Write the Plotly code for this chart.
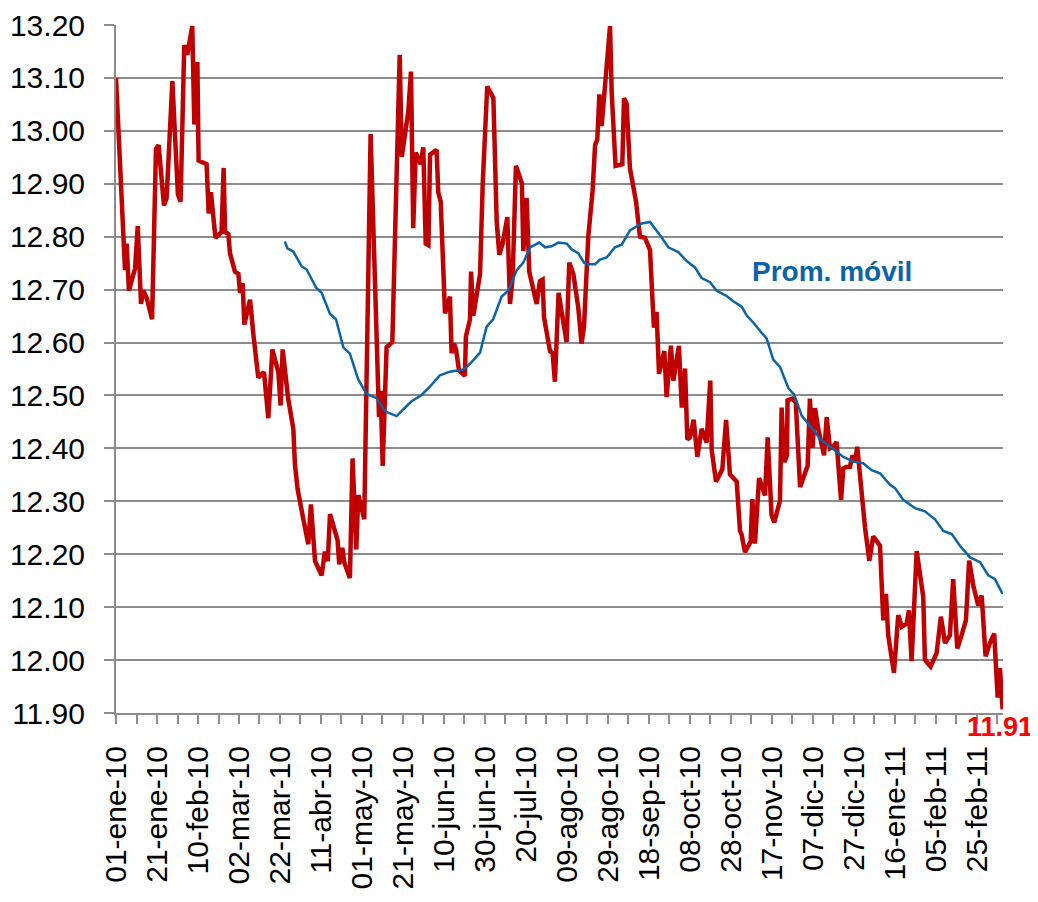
import pandas as pd
import plotly.graph_objects as go

# ---- data (day offset from 01-ene-2010, value) ----
start_date = "2010-01-01"

tipo_cambio_dias = [
    0, 4.4, 5.2, 6.3, 9.3, 10.6, 12.2, 13.3, 15.0, 17.6, 19.5, 20.8, 23.4, 24.7, 27.5,
    30.2, 31.5, 33.3, 34.8, 37.2, 38.2, 39.7, 40.3, 44.2, 45.2, 46.3, 48.5, 51.5, 52.5,
    53.2, 54.8, 55.6, 58.0, 59.7, 60.5, 61.8, 62.6, 65.4, 67.0, 69.4, 72.2, 74.3, 76.3,
    79.2, 80.3, 81.3,
    84.0, 86.5, 87.3, 88.6, 91.4, 93.8, 95.1, 96.3, 97.1, 100.3, 101.9, 103.3, 104.4,
    108.1, 108.9, 110.4, 111.4, 114.1, 115.4, 117.2, 118.2, 121.1, 124.2, 128.3, 129.1,
    130.1, 132.0, 134.8, 138.4, 139.4, 142.6, 143.9, 145.0, 146.2, 148.6, 149.9, 151.1,
    152.4, 153.2, 156.4, 157.2, 158.4, 159.7, 160.5, 162.9, 163.7, 164.9, 165.9, 167.3,
    170.2, 170.7, 172.7, 173.2, 174.3, 177.6, 178.9, 181.1, 184.1, 185.7, 187.0, 188.6,
    190.9, 192.2, 193.5, 195.1, 198.0, 198.7, 200.3, 201.6, 205.2, 206.8, 208.1, 208.8,
    211.7, 213.0, 214.1, 215.9, 219.8, 221.1, 223.1, 225.5, 227.1, 228.3, 230.4, 232.5,
    233.7, 234.8, 235.8, 236.9, 238.0, 241.0, 241.8, 243.7, 247.0, 247.8, 249.1, 250.7,
    253.7, 255.6,
    258.0, 260.5, 262.4, 263.7, 264.9, 266.2, 267.5, 268.6, 270.7, 271.9, 274.6, 276.0,
    277.6, 278.7, 280.0, 281.8, 283.6, 285.7, 288.1, 289.9, 290.6, 292.7, 295.8, 297.6,
    299.5, 302.8, 304.4, 305.2, 306.8, 309.6, 310.4, 311.7, 313.7, 316.6, 317.9, 319.8,
    321.1, 323.9, 324.7, 326.0, 327.3, 327.6, 329.9, 331.6, 333.7, 337.4, 338.5,
    339.8, 341.0, 342.6, 345.4, 346.7, 348.3, 349.9, 351.5, 353.7, 354.8, 356.1, 358.0,
    359.3, 360.5, 361.6, 362.9, 365.4, 367.5, 369.4, 372.7, 374.3, 375.6, 376.7, 379.5,
    381.6, 383.3, 385.7, 386.8, 388.1, 390.6, 393.8, 394.6, 397.4, 400.3, 402.4, 404.4,
    406.8, 408.4, 410.4, 412.5, 414.6, 416.2, 418.2, 420.6, 422.3, 424.2, 426.3, 428.4,
    430.1, 431.2, 432.5,
]
tipo_cambio = [
    13.10, 12.737, 12.787, 12.698, 12.74, 12.82, 12.673, 12.698, 12.684, 12.644, 12.966,
    12.973, 12.859, 12.873, 13.094, 12.88, 12.866, 13.162, 13.144, 13.198, 13.012, 13.13,
    12.944, 12.937, 12.844, 12.884, 12.798, 12.809, 12.93, 12.809, 12.805, 12.769, 12.734,
    12.73, 12.694, 12.712, 12.634, 12.681, 12.616, 12.534, 12.544, 12.457, 12.587, 12.544,
    12.481, 12.587,
    12.494, 12.437, 12.369, 12.323, 12.266, 12.219, 12.294, 12.223, 12.187, 12.16, 12.205,
    12.187, 12.276, 12.226, 12.181, 12.212, 12.184, 12.155, 12.381, 12.209, 12.312, 12.266,
    12.994, 12.459, 12.509, 12.367, 12.591, 12.601, 13.144, 12.951, 13.037, 13.112, 12.816,
    12.959, 12.937, 12.969, 12.787, 12.784, 12.955, 12.964, 12.884, 12.866, 12.691, 12.655,
    12.687, 12.58, 12.598, 12.587, 12.548,
    12.537, 12.612, 12.644, 12.734, 12.651, 12.73, 12.901, 13.084, 13.062, 12.83, 12.766,
    12.787, 12.837, 12.673, 12.723, 12.934, 12.901, 12.773, 12.873, 12.734, 12.673, 12.716,
    12.719, 12.648, 12.584, 12.58, 12.526, 12.694, 12.601, 12.751, 12.73, 12.666, 12.598,
    12.63, 12.801, 12.887, 12.973, 12.984, 13.069, 13.009, 13.066, 13.198, 13.073, 12.934,
    12.937, 13.062, 13.051, 12.93, 12.866, 12.80,
    12.798, 12.775, 12.628, 12.658, 12.541, 12.568, 12.584, 12.497, 12.594, 12.528, 12.594,
    12.477, 12.551, 12.417, 12.421, 12.454, 12.384, 12.437, 12.411, 12.528, 12.397, 12.337,
    12.361, 12.454, 12.351, 12.337, 12.244, 12.237, 12.204, 12.224, 12.304, 12.22, 12.344,
    12.311, 12.421, 12.274, 12.26, 12.301, 12.477, 12.374, 12.387, 12.491, 12.494, 12.487,
    12.327, 12.367, 12.494,
    12.401, 12.476, 12.436, 12.387, 12.459, 12.40, 12.403, 12.412, 12.303, 12.362, 12.365,
    12.365, 12.387, 12.375, 12.403, 12.344, 12.25, 12.188, 12.234, 12.216, 12.075, 12.125,
    12.047, 11.976, 12.085, 12.063, 12.069, 12.094, 11.998, 12.206, 12.119, 12.001, 11.988,
    12.013, 12.082, 12.032, 12.047, 12.153, 12.022, 12.047, 12.075, 12.188, 12.141, 12.103,
    12.122, 12.007, 12.032, 12.05, 11.929, 11.985, 11.907,
]

prom_movil_dias = [
    82.4, 83.6, 86.5, 90.6, 93.0, 97.6, 100.3, 104.4, 107.3, 110.9, 114.1, 118.2, 122.3,
    127.2, 131.2, 136.9, 139.4, 144.2, 149.1, 153.2, 158.0, 162.9, 169.4, 172.7, 177.6,
    180.8, 184.0, 188.1, 191.4, 195.5, 198.7, 202.0, 206.5, 209.3, 212.5, 215.8, 219.9,
    222.3, 225.5, 228.3, 230.4, 233.7, 236.1, 239.4, 243.4, 246.7, 250.7, 254.8, 256.4,
    260.5, 265.4, 269.4, 274.3, 278.4, 282.4, 285.7, 289.8, 293.0, 297.9, 301.1, 305.2,
    307.7, 310.9, 315.0, 317.4, 320.6, 323.9, 328.0, 330.9, 334.5, 337.7, 341.0, 343.4,
    348.3, 354.8, 359.7, 364.5, 368.6, 372.7, 377.6, 380.0, 384.0, 389.8, 394.6, 399.5,
    403.6, 407.7, 411.7, 416.6, 421.5, 425.5, 428.8, 432.5,
]
prom_movil = [
    12.791, 12.778, 12.772, 12.744, 12.738, 12.704, 12.694, 12.654, 12.644, 12.591, 12.579,
    12.53, 12.503, 12.495, 12.47, 12.461, 12.471, 12.489, 12.501, 12.517, 12.538, 12.545,
    12.549, 12.56, 12.581, 12.63, 12.644, 12.687, 12.698, 12.737, 12.751, 12.78, 12.789,
    12.78, 12.782, 12.789, 12.787, 12.776, 12.769, 12.751, 12.748, 12.748, 12.757, 12.761,
    12.78, 12.785, 12.812, 12.821, 12.825, 12.828, 12.803, 12.78, 12.771, 12.754, 12.742,
    12.722, 12.714, 12.698, 12.688, 12.678, 12.668, 12.651, 12.638, 12.618, 12.608, 12.568,
    12.554, 12.514, 12.501, 12.462, 12.447, 12.431, 12.418, 12.403, 12.384, 12.375, 12.372,
    12.359, 12.353, 12.331, 12.325, 12.303, 12.287, 12.281, 12.266, 12.244, 12.238, 12.216,
    12.194, 12.185, 12.16, 12.153, 12.125,
]

tick_labels = [
    "01-ene-10", "21-ene-10", "10-feb-10", "02-mar-10", "22-mar-10", "11-abr-10",
    "01-may-10", "21-may-10", "10-jun-10", "30-jun-10", "20-jul-10", "09-ago-10",
    "29-ago-10", "18-sep-10", "08-oct-10", "28-oct-10", "17-nov-10", "07-dic-10",
    "27-dic-10", "16-ene-11", "05-feb-11", "25-feb-11",
]
tick_step_days = 20
minor_step_days = 10
y_ticks = [11.90, 12.00, 12.10, 12.20, 12.30, 12.40, 12.50, 12.60, 12.70, 12.80, 12.90,
           13.00, 13.10, 13.20]
x_end_day = 432.7

# ---- helpers ----
base = pd.Timestamp(start_date)


def to_date(d):
    return (base + pd.Timedelta(days=d)).strftime("%Y-%m-%d %H:%M:%S")


x_red = [to_date(d) for d in tipo_cambio_dias]
x_blue = [to_date(d) for d in prom_movil_dias]
tick_vals = [to_date(i * tick_step_days) for i in range(len(tick_labels))]

RED = "#C00000"
BLUE = "#0B63A8"
GRID = "#8C8C8C"
FONT = "Liberation Sans, Arial, sans-serif"

fig = go.Figure()
fig.add_trace(go.Scatter(x=x_red, y=tipo_cambio, mode="lines",
                         line=dict(color=RED, width=4.5), showlegend=False))
fig.add_trace(go.Scatter(x=x_blue, y=prom_movil, mode="lines",
                         line=dict(color=BLUE, width=2.5), showlegend=False))

# page body has an 8px margin, so the figure is 8px smaller and margins shifted
fig.update_layout(
    width=1030, height=894,
    margin=dict(l=108, r=35, t=17, b=189),
    paper_bgcolor="white", plot_bgcolor="white",
    font=dict(family=FONT, color="black"),
)
fig.update_xaxes(
    type="date", automargin=False,
    range=[to_date(0), to_date(x_end_day)],
    tickmode="array", tickvals=tick_vals, ticktext=tick_labels,
    tickangle=-90, tickfont=dict(size=30, family=FONT, color="black"),
    ticklabelstandoff=10, ticklabeloverflow="allow",
    ticks="outside", ticklen=9, tickwidth=2, tickcolor=GRID,
    minor=dict(tickmode="linear", tick0=to_date(0), dtick=minor_step_days * 86400000,
               ticks="outside", ticklen=9, tickwidth=2, tickcolor=GRID, showgrid=False),
    showgrid=False, showline=True, linecolor=GRID, linewidth=2, zeroline=False,
)
fig.update_yaxes(
    automargin=False,
    range=[11.90, 13.2001],
    tickmode="array", tickvals=y_ticks, ticktext=[f"{v:.2f}" for v in y_ticks],
    tickfont=dict(size=30, family=FONT, color="black"),
    ticklabelstandoff=13, ticklabeloverflow="allow",
    ticks="outside", ticklen=10, tickwidth=2, tickcolor=GRID,
    showgrid=True, gridcolor=GRID, gridwidth=2,
    showline=True, linecolor=GRID, linewidth=2, zeroline=False,
)

fig.add_annotation(x=to_date(349.3), y=12.735, xref="x", yref="y",
                   text="<b>Prom. móvil</b>", showarrow=False,
                   font=dict(size=28, color=BLUE, family=FONT),
                   xanchor="center", yanchor="middle")
fig.add_annotation(x=0.957, y=-0.021, xref="paper", yref="paper",
                   text=f"<b>{tipo_cambio[-1]:.2f}</b>", showarrow=False,
                   font=dict(size=27, color="#FF0000", family=FONT),
                   xanchor="left", yanchor="middle")

fig.write_html("out.html")
